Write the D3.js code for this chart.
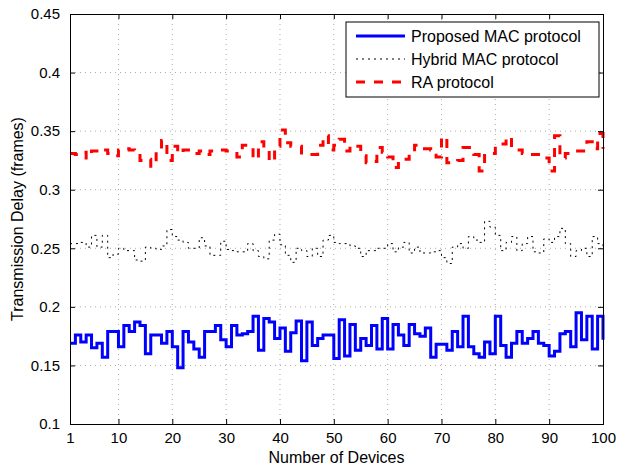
<!DOCTYPE html>
<html>
<head>
<meta charset="utf-8">
<script src="https://cdn.jsdelivr.net/npm/d3@7"></script>
<style>
body { margin: 0; background: #fff; }
svg { display: block; font-family: "Liberation Sans", Arial, sans-serif; }
</style>
</head>
<body>
<div id="chart"></div>
<script>
// data
var devices = d3.range(1, 101);

var proposed = [
	0.169, 0.176, 0.170, 0.176, 0.165, 0.169, 0.157, 0.179, 0.179, 0.166,
	0.184, 0.179, 0.187, 0.184, 0.160, 0.176, 0.176, 0.169, 0.179, 0.166,
	0.148, 0.179, 0.170, 0.164, 0.157, 0.179, 0.179, 0.184, 0.172, 0.166,
	0.184, 0.176, 0.177, 0.179, 0.192, 0.163, 0.190, 0.187, 0.173, 0.182,
	0.162, 0.178, 0.188, 0.154, 0.187, 0.167, 0.173, 0.176, 0.176, 0.156,
	0.189, 0.158, 0.185, 0.163, 0.173, 0.167, 0.184, 0.164, 0.190, 0.164,
	0.185, 0.176, 0.167, 0.185, 0.177, 0.175, 0.182, 0.157, 0.168, 0.168,
	0.163, 0.179, 0.166, 0.192, 0.166, 0.160, 0.157, 0.170, 0.160, 0.192,
	0.167, 0.157, 0.169, 0.179, 0.169, 0.173, 0.179, 0.169, 0.167, 0.158,
	0.162, 0.177, 0.179, 0.166, 0.195, 0.172, 0.192, 0.164, 0.192, 0.172
];

var hybrid = [
	0.254, 0.254, 0.255, 0.251, 0.261, 0.251, 0.261, 0.242, 0.245, 0.250,
	0.248, 0.248, 0.240, 0.239, 0.251, 0.250, 0.249, 0.252, 0.266, 0.260,
	0.257, 0.255, 0.250, 0.250, 0.259, 0.252, 0.244, 0.244, 0.256, 0.249,
	0.248, 0.247, 0.247, 0.254, 0.248, 0.243, 0.241, 0.257, 0.262, 0.253,
	0.244, 0.238, 0.250, 0.248, 0.243, 0.250, 0.243, 0.257, 0.261, 0.255,
	0.254, 0.254, 0.252, 0.250, 0.243, 0.248, 0.248, 0.250, 0.250, 0.254,
	0.247, 0.251, 0.255, 0.246, 0.251, 0.246, 0.246, 0.247, 0.248, 0.242,
	0.237, 0.251, 0.254, 0.250, 0.260, 0.257, 0.255, 0.273, 0.268, 0.261,
	0.248, 0.255, 0.260, 0.248, 0.254, 0.260, 0.247, 0.246, 0.258, 0.255,
	0.260, 0.267, 0.254, 0.243, 0.248, 0.250, 0.243, 0.260, 0.254, 0.250
];

var ra = [
	0.331, 0.330, 0.332, 0.327, 0.333, 0.335, 0.334, 0.331, 0.329, 0.334,
	0.335, 0.334, 0.333, 0.325, 0.326, 0.320, 0.333, 0.342, 0.325, 0.337,
	0.331, 0.334, 0.331, 0.331, 0.333, 0.330, 0.333, 0.333, 0.334, 0.333,
	0.333, 0.328, 0.338, 0.336, 0.326, 0.341, 0.335, 0.324, 0.337, 0.351,
	0.340, 0.337, 0.337, 0.330, 0.330, 0.330, 0.338, 0.346, 0.334, 0.338,
	0.343, 0.333, 0.338, 0.337, 0.329, 0.323, 0.324, 0.336, 0.332, 0.328,
	0.319, 0.326, 0.326, 0.330, 0.338, 0.335, 0.335, 0.334, 0.328, 0.345,
	0.323, 0.323, 0.325, 0.336, 0.336, 0.330, 0.316, 0.331, 0.331, 0.339,
	0.339, 0.345, 0.336, 0.334, 0.331, 0.330, 0.330, 0.330, 0.327, 0.316,
	0.346, 0.327, 0.331, 0.333, 0.333, 0.333, 0.341, 0.335, 0.348, 0.335
];

var xticks = [1, 10, 20, 30, 40, 50, 60, 70, 80, 90, 100];
var yticks = [0.1, 0.15, 0.2, 0.25, 0.3, 0.35, 0.4, 0.45];

var series = [
	{ name: "Proposed MAC protocol", values: proposed, color: "#0000ff", width: 3, dash: null },
	{ name: "Hybrid MAC protocol", values: hybrid, color: "#000", width: 1, dash: "2,4" },
	{ name: "RA protocol", values: ra, color: "#ff0000", width: 3, dash: "9,9" }
];


// layout
var W = 617, H = 467;
var m = { top: 14, right: 14, bottom: 43, left: 70 };
var w = W - m.left - m.right, h = H - m.top - m.bottom;

var svg = d3.select("#chart").append("svg")
	.attr("width", W).attr("height", H);
var g = svg.append("g").attr("transform", "translate(" + m.left + "," + m.top + ")");

var x = d3.scaleLinear().domain([1, 100]).range([0, w]);
var y = d3.scaleLinear().domain([0.1, 0.45]).range([h, 0]);


// grid
g.append("g").selectAll("line").data(xticks.slice(1, -1)).enter()
	.append("line")
	.attr("x1", function(d){ return x(d); }).attr("x2", function(d){ return x(d); })
	.attr("y1", 0).attr("y2", h)
	.attr("stroke", "#aaa").attr("stroke-width", 1)
	.attr("stroke-dasharray", "1,4")
	;
g.append("g").selectAll("line").data(yticks.slice(1, -1)).enter()
	.append("line")
	.attr("y1", function(d){ return y(d); }).attr("y2", function(d){ return y(d); })
	.attr("x1", 0).attr("x2", w)
	.attr("stroke", "#aaa").attr("stroke-width", 1)
	.attr("stroke-dasharray", "1,4")
	;


// lines (matlab stairs)
var line = function(vals){
	return d3.line()
		.x(function(d, i){ return x(devices[i]); })
		.y(function(d){ return y(d); })
		.curve(d3.curveStepAfter)(vals);
};
series.forEach(function(s){
	g.append("path")
		.attr("d", line(s.values))
		.attr("fill", "none")
		.attr("stroke", s.color)
		.attr("stroke-width", s.width)
		.attr("stroke-dasharray", s.dash)
		.attr("stroke-linejoin", "miter")
		;
});


// axes, inward ticks on all four sides
var fmt = function(d){ return String(+d.toFixed(2)); };
var xb = g.append("g").attr("transform", "translate(0," + h + ")")
	.call(d3.axisBottom(x).tickValues(xticks).tickSize(-5).tickPadding(8).tickFormat(fmt));
var xt = g.append("g")
	.call(d3.axisTop(x).tickValues(xticks).tickSize(-5).tickFormat(""));
var yl = g.append("g")
	.call(d3.axisLeft(y).tickValues(yticks).tickSize(-5).tickPadding(10).tickFormat(fmt));
var yr = g.append("g").attr("transform", "translate(" + w + ",0)")
	.call(d3.axisRight(y).tickValues(yticks).tickSize(-5).tickFormat(""));

[xb, xt, yl, yr].forEach(function(a){
	a.selectAll(".domain").attr("stroke", "#000");
	a.selectAll(".tick line").attr("stroke", "#000");
	a.selectAll("text").attr("fill", "#000").style("font-size", "15px")
		.style("font-family", "'Liberation Sans', Arial, sans-serif");
});

// axis titles
svg.append("text")
	.attr("x", m.left + w / 2).attr("y", 463)
	.attr("text-anchor", "middle")
	.style("font-size", "16px")
	.text("Number of Devices");
svg.append("text")
	.attr("transform", "translate(23," + (m.top + h / 2) + ") rotate(-90)")
	.attr("text-anchor", "middle")
	.style("font-size", "16px")
	.text("Transmission Delay (frames)");


// legend
var lg = svg.append("g").attr("transform", "translate(346,22)");
lg.append("rect")
	.attr("width", 253).attr("height", 75)
	.attr("fill", "#fff").attr("stroke", "#000").attr("stroke-width", 1);
series.forEach(function(s, i){
	var yy = 14 + i * 23;
	lg.append("line")
		.attr("x1", 10).attr("x2", 59)
		.attr("y1", yy).attr("y2", yy)
		.attr("stroke", s.color)
		.attr("stroke-width", s.width)
		.attr("stroke-dasharray", s.dash)
		;
	lg.append("text")
		.attr("x", 65).attr("y", yy + 6)
		.style("font-size", "16px")
		.text(s.name);
});
</script>
</body>
</html>
